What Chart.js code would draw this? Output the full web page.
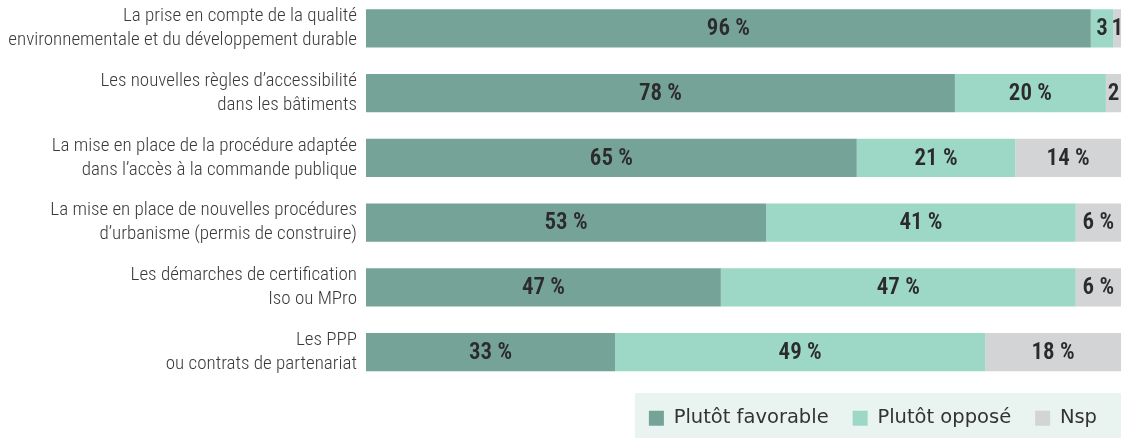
<!DOCTYPE html>
<html>
<head>
<meta charset="utf-8">
<script src="https://cdn.jsdelivr.net/npm/chart.js@4"></script>
<style>
  html, body { margin: 0; padding: 0; background: #fff; overflow: hidden; }
  #wrap { position: absolute; left: 0; top: -4px; width: 1121px; height: 442px; }
</style>
</head>
<body>
<div id="wrap"><canvas id="chart"></canvas></div>
<script>
// Data
const categories = [
    ["La prise en compte de la qualité", "environnementale et du développement durable"],
    ["Les nouvelles règles d’accessibilité", "dans les bâtiments"],
    ["La mise en place de la procédure adaptée", "dans l’accès à la commande publique"],
    ["La mise en place de nouvelles procédures", "d’urbanisme (permis de construire)"],
    ["Les démarches de certification", "Iso ou MPro"],
    ["Les PPP", "ou contrats de partenariat"]
];
const favorable = [96, 78, 65, 53, 47, 33];
const oppose = [3, 20, 21, 41, 47, 49];
const nsp = [1, 2, 14, 6, 6, 18];
const seriesNames = ["Plutôt favorable", "Plutôt opposé", "Nsp"];

// Value labels inside bars
const barLabels = {
    id: "barLabels",
    afterDatasetsDraw(chart) {
        const ctx = chart.ctx;
        ctx.save();
        ctx.font = "condensed 600 23px Roboto";
        ctx.fillStyle = "#2b2b2b";
        ctx.textAlign = "center";
        ctx.textBaseline = "middle";
        chart.data.datasets.forEach((ds, i) => {
            const meta = chart.getDatasetMeta(i);
            meta.data.forEach((bar, j) => {
                const v = ds.data[j];
                const text = v < 5 ? String(v) : v + " %";
                const x = (bar.base + bar.x) / 2;
                ctx.fillText(text, x, bar.y + 1);
            });
        });
        ctx.restore();
    }
};

// Light box behind the legend
const legendBox = {
    id: "legendBox",
    beforeDraw(chart) {
        const lg = chart.legend;
        if (!lg || !lg.legendHitBoxes.length) return;
        const ctx = chart.ctx;
        const left = lg.legendHitBoxes[0].left - 14;
        ctx.save();
        ctx.fillStyle = "#e9f3ef";
        ctx.fillRect(left, chart.height - 45, chart.width - left, 45);
        ctx.restore();
    }
};

new Chart(document.getElementById("chart"), {
    type: "bar",
    data: {
        labels: categories,
        datasets: [
            { label: seriesNames[0], data: favorable, backgroundColor: "#76a397" },
            { label: seriesNames[1], data: oppose, backgroundColor: "#9dd7c6" },
            { label: seriesNames[2], data: nsp, backgroundColor: "#d3d4d6" }
        ]
    },
    options: {
        indexAxis: "y",
        responsive: true,
        maintainAspectRatio: false,
        animation: false,
        layout: { padding: 0 },
        datasets: {
            bar: {
                categoryPercentage: 1,
                barPercentage: 0.59,
                borderWidth: 0
            }
        },
        plugins: {
            tooltip: { enabled: false },
            legend: {
                position: "bottom",
                align: "end",
                labels: {
                    boxWidth: 15,
                    boxHeight: 15,
                    padding: 24,
                    color: "#333",
                    font: { family: "'DejaVu Sans', sans-serif", size: 19.5 }
                }
            }
        },
        scales: {
            x: {
                stacked: true,
                min: 0,
                max: 100,
                display: false
            },
            y: {
                stacked: true,
                grid: { display: false, drawTicks: false },
                border: { display: false },
                ticks: {
                    padding: 9,
                    color: "#3a3a3a",
                    // stretch keyword goes in weight, Chart.js rejects it as a style
                    font: { family: "Roboto", weight: "condensed 300", size: 19, lineHeight: 1.26 }
                },
                afterFit: scale => {
                    scale.width = 366;
                    scale.paddingTop = 0;
                    scale.paddingBottom = 0;
                }
            }
        }
    },
    plugins: [legendBox, barLabels]
});
</script>
</body>
</html>
